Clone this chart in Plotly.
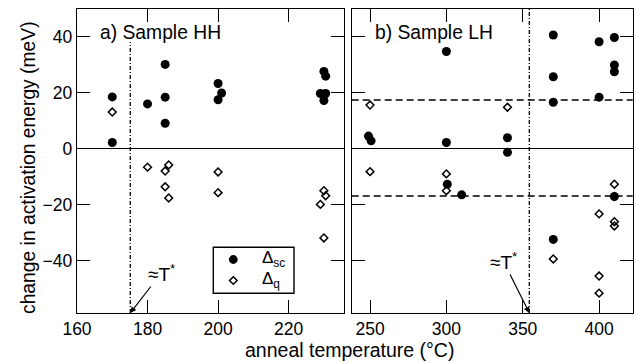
import plotly.graph_objects as go

# ---------------- data ----------------
# panel a) Sample HH
hh_sc_T = [170, 170, 180, 185, 185, 185, 200, 201, 200, 230, 230.5, 229, 230.5, 230]
hh_sc_E = [18.6, 2.3, 16.1, 30.2, 18.5, 9.2, 23.4, 20.0, 17.6, 27.7, 26.0, 19.8, 19.8, 17.3]
hh_q_T = [170, 180, 185, 186, 200, 185, 186, 200, 230, 230.5, 229, 230]
hh_q_E = [13.2, -6.5, -7.9, -5.7, -8.2, -13.5, -17.5, -15.6, -14.9, -16.7, -19.8, -31.8]

# panel b) Sample LH
lh_sc_T = [249, 250.7, 300, 300, 300.6, 310, 340, 340, 370, 370, 370, 370, 400, 400, 410, 410, 410, 410]
lh_sc_E = [4.6, 2.9, 34.8, 2.3, -12.6, -16.4, 4.0, -1.2, 40.7, 25.8, 16.7, -32.3, 38.3, 18.5, 39.8, 30.0, 27.6, -17.0]
lh_q_T = [250, 250, 300, 300, 340, 370, 400, 400, 400, 410, 410, 410, 410]
lh_q_E = [15.7, -8.1, -8.9, -14.9, 14.9, -39.3, -23.2, -45.4, -51.5, -12.6, -17.0, -26.0, -27.5]

hh_ticks = [160, 180, 200, 220]
lh_ticks = [250, 300, 350, 400]
y_ticks = [-40, -20, 0, 20, 40]

hh_Tstar = 175.1
lh_Tstar = 354.3
hh_Tstar_top = 38.2
lh_dash_levels = [17.5, -16.8]

x_title = "anneal temperature (°C)"
y_title = "change in activation energy (meV)"
label_a = "a) Sample HH"
label_b = "b) Sample LH"
name_sc = "Δ<sub>sc</sub>"
name_q = "Δ<sub>q</sub>"
tstar_text = "≈T<sup>*</sup>"

# ---------------- figure ----------------
W, H = 634, 363
FONT = "Liberation Sans, Arial, Helvetica, sans-serif"

def px(x):
    return x / W

def py(y):
    return 1 - y / H

fig = go.Figure()

sc_marker = dict(symbol="circle", size=9, color="black", line=dict(width=0))
q_marker = dict(symbol="diamond-open", size=6, color="black", line=dict(width=1.5, color="black"))

fig.add_trace(go.Scatter(x=hh_sc_T, y=hh_sc_E, mode="markers", marker=sc_marker,
                         name=name_sc, xaxis="x", yaxis="y", showlegend=False))
fig.add_trace(go.Scatter(x=hh_q_T, y=hh_q_E, mode="markers", marker=q_marker,
                         name=name_q, xaxis="x", yaxis="y", showlegend=False))
fig.add_trace(go.Scatter(x=lh_sc_T, y=lh_sc_E, mode="markers", marker=sc_marker,
                         name=name_sc, xaxis="x2", yaxis="y2", showlegend=False))
fig.add_trace(go.Scatter(x=lh_q_T, y=lh_q_E, mode="markers", marker=q_marker,
                         name=name_q, xaxis="x2", yaxis="y2", showlegend=False))

axis_common = dict(
    showline=True, linecolor="black", linewidth=1.4, mirror="ticks",
    ticks="inside", ticklen=13, tickwidth=1.4, tickcolor="black",
    showgrid=False, automargin=False,
    tickfont=dict(family=FONT, size=17.5, color="black"),
)

ydom = [py(313), py(9)]
yrange = [-58.6, 50]

fig.update_layout(
    width=W, height=H,
    margin=dict(l=0, r=0, t=0, b=0, pad=0),
    paper_bgcolor="white", plot_bgcolor="white",
    font=dict(family=FONT, color="black"),
    xaxis=dict(domain=[px(77), px(344)], range=[160, 235.7], tickvals=hh_ticks,
               anchor="y", **axis_common),
    yaxis=dict(domain=ydom, range=yrange, tickvals=y_ticks, anchor="x",
               zeroline=True, zerolinecolor="black", zerolinewidth=1.4,
               **axis_common),
    xaxis2=dict(domain=[px(351.7), px(632.7)], range=[238, 422], tickvals=lh_ticks,
                anchor="y2", **axis_common),
    yaxis2=dict(domain=ydom, range=yrange, tickvals=y_ticks, anchor="x2",
                showticklabels=False, zeroline=True, zerolinecolor="black",
                zerolinewidth=1.4, **axis_common),
    showlegend=False,
)

# T* vertical dash-dot lines
fig.add_shape(type="line", xref="x", yref="y", x0=hh_Tstar, x1=hh_Tstar,
              y0=yrange[0], y1=hh_Tstar_top,
              line=dict(color="black", width=1.3, dash="4px,2px,1px,2px"))
fig.add_shape(type="line", xref="x2", yref="y2 domain", x0=lh_Tstar, x1=lh_Tstar,
              y0=0, y1=1,
              line=dict(color="black", width=1.3, dash="4px,2px,1px,2px"))

# dashed horizontal lines in panel b
for lv in lh_dash_levels:
    fig.add_shape(type="line", xref="x2 domain", yref="y2", x0=0, x1=1, y0=lv, y1=lv,
                  line=dict(color="black", width=1.5, dash="7px,4px"))

# legend (drawn as a key box)
fig.add_shape(type="rect", xref="paper", yref="paper",
              x0=px(213.3), x1=px(294), y0=py(293.3), y1=py(247.3),
              line=dict(color="black", width=1.4), fillcolor="white", layer="above")
cx, cy1, cy2, r, d = 233.3, 259.5, 280.5, 4.4, 3.8
fig.add_shape(type="circle", xref="paper", yref="paper",
              x0=px(cx - r), x1=px(cx + r), y0=py(cy1 + r), y1=py(cy1 - r),
              line=dict(width=0), fillcolor="black", layer="above")
fig.add_shape(type="path", xref="paper", yref="paper",
              path=(f"M {px(cx)} {py(cy2 - d)} L {px(cx + d)} {py(cy2)} "
                    f"L {px(cx)} {py(cy2 + d)} L {px(cx - d)} {py(cy2)} Z"),
              line=dict(color="black", width=1.5), fillcolor="white", layer="above")
fig.add_annotation(x=px(260), y=py(cy1 - 1), xref="paper", yref="paper", text=name_sc,
                   showarrow=False, xanchor="left", yanchor="middle",
                   font=dict(family=FONT, size=17, color="black"))
fig.add_annotation(x=px(260), y=py(cy2 - 1), xref="paper", yref="paper", text=name_q,
                   showarrow=False, xanchor="left", yanchor="middle",
                   font=dict(family=FONT, size=17, color="black"))

# panel labels
fig.add_annotation(x=px(98), y=py(32), xref="paper", yref="paper", text=label_a,
                   showarrow=False, xanchor="left", yanchor="middle",
                   font=dict(family=FONT, size=19.3, color="black"))
fig.add_annotation(x=px(372.5), y=py(32), xref="paper", yref="paper", text=label_b,
                   showarrow=False, xanchor="left", yanchor="middle",
                   font=dict(family=FONT, size=19.3, color="black"))

# T* arrows
fig.add_annotation(x=hh_Tstar, y=yrange[0], xref="x", yref="y", text=tstar_text,
                   showarrow=True, arrowhead=2, arrowsize=1, arrowwidth=1.2,
                   arrowcolor="black", ax=31, ay=-40, standoff=0,
                   font=dict(family=FONT, size=19, color="black"))
fig.add_annotation(x=lh_Tstar, y=yrange[0], xref="x2", yref="y2", text=tstar_text,
                   showarrow=True, arrowhead=2, arrowsize=1, arrowwidth=1.2,
                   arrowcolor="black", ax=-26, ay=-52, standoff=0,
                   font=dict(family=FONT, size=19, color="black"))

# axis titles
fig.add_annotation(x=px(349), y=py(350), xref="paper", yref="paper", text=x_title,
                   showarrow=False, xanchor="center", yanchor="middle",
                   font=dict(family=FONT, size=19.5, color="black"))
fig.add_annotation(x=px(28), y=py(168), xref="paper", yref="paper", text=y_title,
                   showarrow=False, xanchor="center", yanchor="middle", textangle=-90,
                   font=dict(family=FONT, size=19.3, color="black"))

fig.write_html("out.html", config={"displayModeBar": False},
               post_script="document.body.style.margin='0';document.body.style.overflow='hidden';")
